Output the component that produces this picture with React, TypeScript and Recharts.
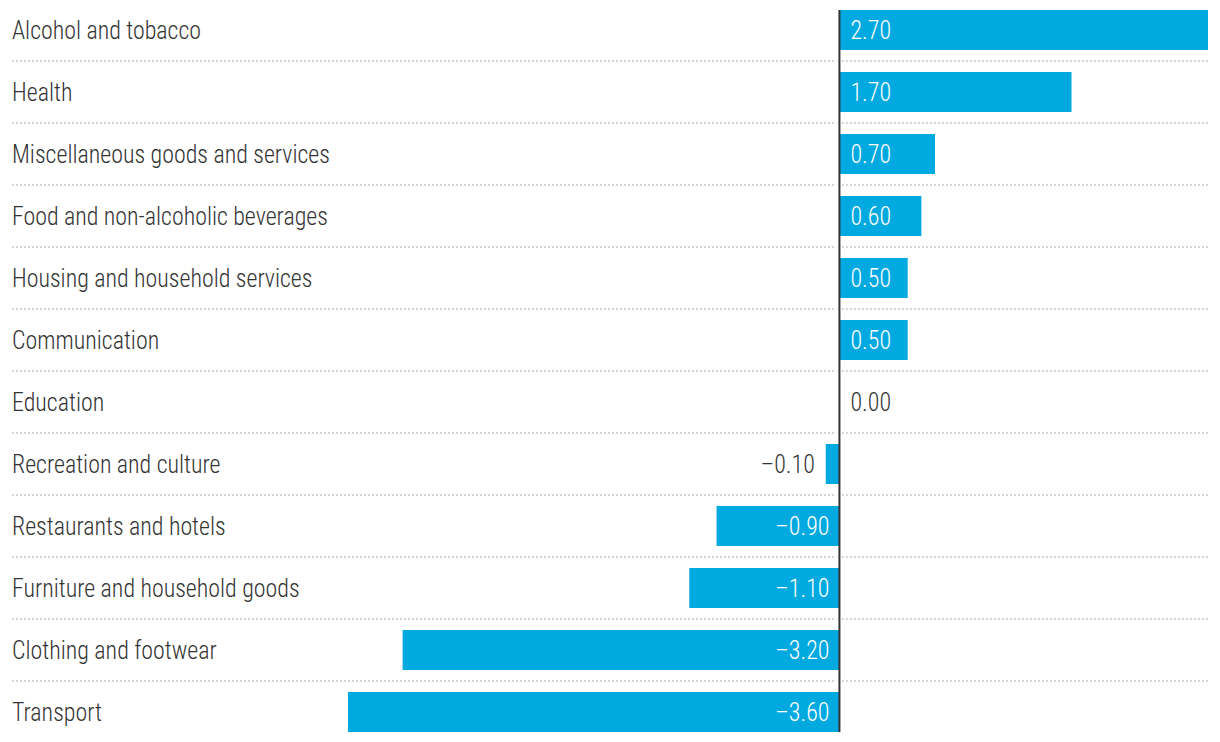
import React from "react";
import { BarChart, Bar, XAxis, YAxis } from "recharts";

const categories = [
  "Alcohol and tobacco",
  "Health",
  "Miscellaneous goods and services",
  "Food and non-alcoholic beverages",
  "Housing and household services",
  "Communication",
  "Education",
  "Recreation and culture",
  "Restaurants and hotels",
  "Furniture and household goods",
  "Clothing and footwear",
  "Transport",
];

const values = [2.7, 1.7, 0.7, 0.6, 0.5, 0.5, 0.0, -0.1, -0.9, -1.1, -3.2, -3.6];

const xDomain = [-3.6, 2.7];

const data = categories.map((name, i) => ({ name, value: values[i] }));

const FONT = "'Roboto Condensed', 'Liberation Sans Narrow', 'DejaVu Sans Condensed', sans-serif";
const FONT_SIZE = 26;
const FONT_WEIGHT = 300;
const SCALE_X = 0.92;
const TEXT_COLOR = "#333333";
const BAR_COLOR = "#00A9E0";
const GRID_COLOR = "#d4d4d4";
const LABEL_X = 12;
const ROW_PAD = 11;
const BAR_SIZE = 40;

const fmt = (v: number) => (v < 0 ? "\u2013" + Math.abs(v).toFixed(2) : v.toFixed(2));

function Label(props: { x: number; y: number; anchor: "start" | "end"; color: string; text: string }) {
  const { x, y, anchor, color, text } = props;
  return (
    <text
      transform={`translate(${x} ${y}) scale(${SCALE_X} 1)`}
      x={0}
      y={0}
      textAnchor={anchor}
      fill={color}
      fontFamily={FONT}
      fontSize={FONT_SIZE}
      fontWeight={FONT_WEIGHT}
    >
      {text}
    </text>
  );
}

function CategoryTick(props: any) {
  const { y, payload } = props;
  return <Label x={LABEL_X} y={y + 9} anchor="start" color={TEXT_COLOR} text={payload.value} />;
}

function BarShape(props: any) {
  const { x, y, width, height, index, background, payload } = props;
  const v: number = payload.value;
  const x0 = Math.min(x, x + width);
  const x1 = Math.max(x, x + width);
  const w = x1 - x0;
  const zeroX = v >= 0 ? x0 : x1;
  const last = data.length - 1;
  const top = index === 0 ? y : y - ROW_PAD;
  const bottom = index === last ? y + height : y + height + ROW_PAD;
  const lineY = y + height + ROW_PAD;
  const rightEdge = background ? background.x + background.width : x1;
  const cy = y + height / 2;

  let labelX: number;
  let anchor: "start" | "end";
  let color: string;
  const inside = w > 50;
  if (v >= 0) {
    anchor = "start";
    if (inside) {
      labelX = zeroX + 11;
      color = "#ffffff";
    } else {
      labelX = x1 + 11;
      color = TEXT_COLOR;
    }
  } else {
    anchor = "end";
    if (inside) {
      labelX = zeroX - 10;
      color = "#ffffff";
    } else {
      labelX = x0 - 11;
      color = TEXT_COLOR;
    }
  }

  return (
    <g>
      {w > 0 && <rect x={x0} y={y} width={w} height={height} fill={BAR_COLOR} />}
      {index < last && (
        <g>
          <line
            x1={LABEL_X}
            x2={zeroX - 3}
            y1={lineY}
            y2={lineY}
            stroke={GRID_COLOR}
            strokeWidth={2}
            strokeDasharray="2 2"
          />
          <line
            x1={zeroX + 2.5}
            x2={rightEdge}
            y1={lineY}
            y2={lineY}
            stroke={GRID_COLOR}
            strokeWidth={2}
            strokeDasharray="2 2"
          />
        </g>
      )}
      <line x1={zeroX} x2={zeroX} y1={top} y2={bottom} stroke="#333333" strokeWidth={2} />
      <Label x={labelX} y={cy + 9} anchor={anchor} color={color} text={fmt(v)} />
    </g>
  );
}

export default function App() {
  return (
    <div
      style={{
        position: "absolute",
        left: 0,
        top: -1,
        width: 1220,
        height: 744,
        background: "#ffffff",
        fontFamily: FONT,
      }}
    >
      <BarChart
        width={1220}
        height={744}
        data={data}
        layout="vertical"
        margin={{ top: 0, right: 12, bottom: 0, left: 12 }}
      >
        <XAxis type="number" domain={xDomain} hide />
        <YAxis
          type="category"
          dataKey="name"
          width={336}
          axisLine={false}
          tickLine={false}
          interval={0}
          tick={(p: any) => <CategoryTick {...p} />}
        />
        <Bar
          dataKey="value"
          barSize={BAR_SIZE}
          fill={BAR_COLOR}
          shape={(p: any) => <BarShape {...p} />}
          isAnimationActive={false}
        />
      </BarChart>
    </div>
  );
}
